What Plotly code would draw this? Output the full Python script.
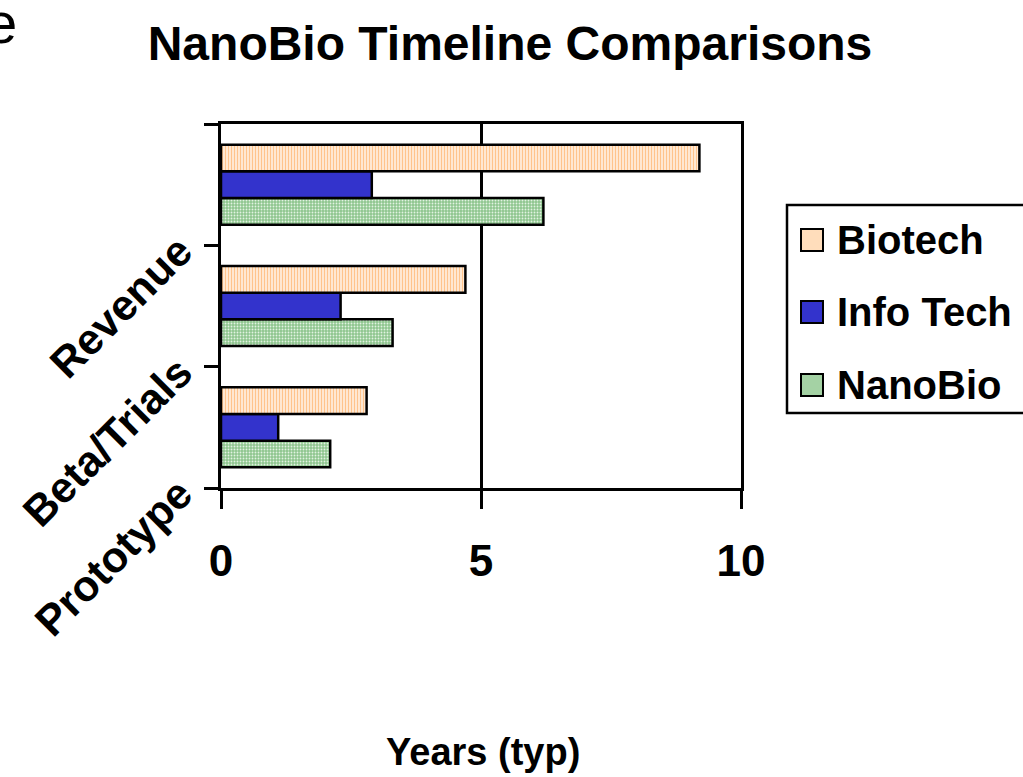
import plotly.graph_objects as go

stage_pos = [0, 1, 2]  # Prototype, Beta/Trials, Revenue
tick_labels = ["Prototype", "Beta/Trials", "Revenue", ""]
series_names = ["Biotech", "Info Tech", "NanoBio"]
biotech = [2.8, 4.7, 9.2]
info_tech = [1.1, 2.3, 2.9]
nanobio = [2.1, 3.3, 6.2]

FONT = "Liberation Sans, Arial, sans-serif"
W, H = 1023, 777
L, R, T, B = 221, 741, 124, 488  # plot area in pixels


def px(xp):
    return (xp - L) / (R - L)


def py(yp):
    return (B - yp) / (B - T)


styles = {
    "Biotech": dict(color="#FFE4CA", line=dict(color="black", width=2.5),
                    pattern=dict(shape="|", fillmode="replace", bgcolor="#FFE8D2",
                                 fgcolor="#FFC48C", size=3, solidity=0.35)),
    "Info Tech": dict(color="#3333CC", line=dict(color="black", width=2.5)),
    "NanoBio": dict(color="#99CC99", line=dict(color="black", width=2.5),
                    pattern=dict(shape=".", fillmode="replace", bgcolor="#8EC68E",
                                 fgcolor="#E2F2E2", size=3, solidity=0.3)),
}
values = {"Biotech": biotech, "Info Tech": info_tech, "NanoBio": nanobio}
legend_fill = {"Biotech": "#FFDDBB", "Info Tech": "#3333CC", "NanoBio": "#A4D2A4"}

fig = go.Figure()
for name in reversed(series_names):
    fig.add_trace(go.Bar(name=name, y=stage_pos, x=values[name], orientation="h",
                         marker=styles[name], showlegend=False))

fig.update_layout(
    width=W, height=H,
    margin=dict(l=L, r=W - R, t=T, b=H - B, autoexpand=False),
    paper_bgcolor="white", plot_bgcolor="white",
    barmode="group", bargap=0.34, bargroupgap=0,
    showlegend=False,
    title=dict(text="<b>NanoBio Timeline Comparisons</b>",
               x=px(510), xref="paper", xanchor="center",
               y=1 - 43 / H, yref="container", yanchor="middle",
               font=dict(family=FONT, size=48, color="black")),
)

fig.update_xaxes(
    range=[0, 10], tickvals=[0, 5, 10], ticktext=["<b>0</b>", "<b>5</b>", "<b>10</b>"],
    showgrid=True, gridcolor="black", gridwidth=2.5,
    showline=True, linecolor="black", linewidth=2.5, mirror=True,
    ticks="outside", ticklen=18, tickwidth=2.5, tickcolor="black",
    ticklabelstandoff=14, tickfont=dict(family=FONT, size=44, color="black"),
    zeroline=False, fixedrange=True,
)
fig.update_yaxes(
    range=[-0.5, 2.5], tickvals=[-0.5, 0.5, 1.5, 2.5],
    ticktext=["<b>" + t + "</b>" if t else "" for t in tick_labels],
    showgrid=False, showline=True, linecolor="black", linewidth=2.5, mirror=True,
    ticks="outside", ticklen=14, tickwidth=2.5, tickcolor="black",
    tickangle=-45, ticklabelstandoff=16,
    tickfont=dict(family=FONT, size=43, color="black"),
    zeroline=False, fixedrange=True,
)

# axis title and stray slide text
fig.add_annotation(text="<b>Years (typ)</b>", xref="paper", yref="paper",
                   x=px(483), y=py(752), xanchor="center", yanchor="middle",
                   showarrow=False, font=dict(family=FONT, size=38, color="black"))
fig.add_annotation(text="e", xref="paper", yref="paper",
                   x=px(19), y=py(22), xanchor="right", yanchor="middle",
                   showarrow=False, font=dict(family=FONT, size=58, color="black"))

# legend box (extends past the right edge like the reference)
fig.add_shape(type="rect", xref="paper", yref="paper",
              x0=px(787), x1=px(1040), y0=py(413), y1=py(205),
              line=dict(color="black", width=2.5), fillcolor="white", layer="above")
legend_y = [240, 312, 385]
for name, yc in zip(series_names, legend_y):
    fig.add_shape(type="rect", xref="paper", yref="paper",
                  x0=px(801), x1=px(823), y0=py(yc + 11), y1=py(yc - 11),
                  line=dict(color="black", width=2), fillcolor=legend_fill[name],
                  layer="above")
    fig.add_annotation(text="<b>" + name + "</b>", xref="paper", yref="paper",
                       x=px(835), y=py(yc), xanchor="left", yanchor="middle",
                       showarrow=False, font=dict(family=FONT, size=40, color="black"))

fig.write_html("out.html", config={"displayModeBar": False},
               post_script="document.body.style.margin='0';")
